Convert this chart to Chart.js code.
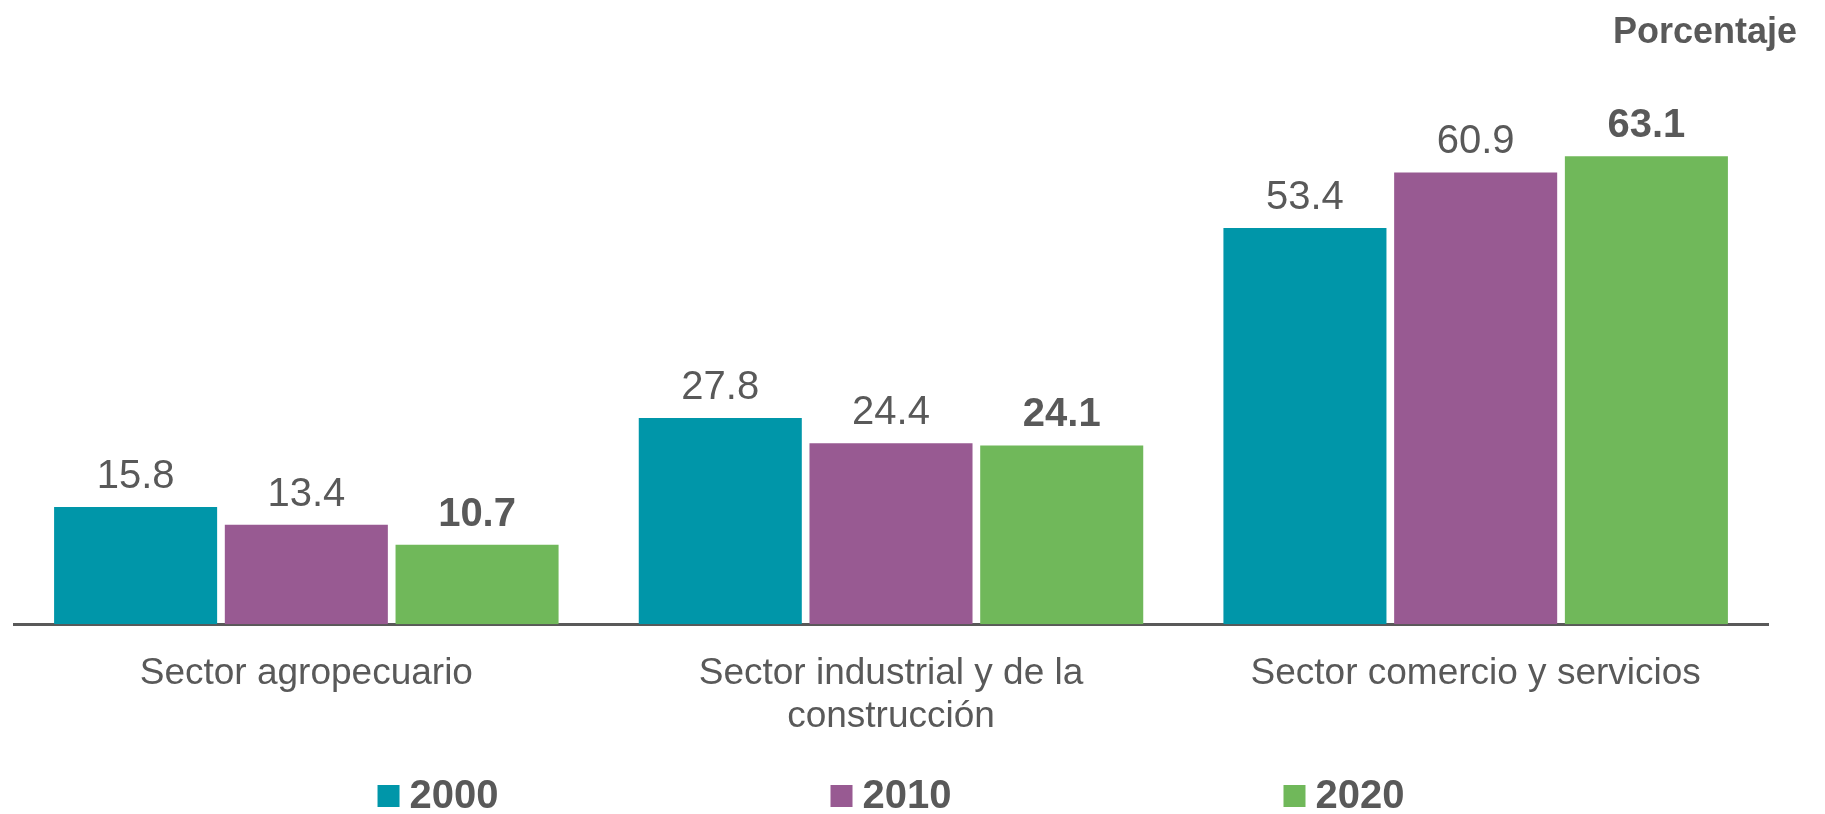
<!DOCTYPE html>
<html lang="es">
<head>
    <meta charset="UTF-8">
    <title>Porcentaje por sector</title>
    <script src="https://cdn.jsdelivr.net/npm/chart.js"></script>
    <style>
        body { margin: 0; background: #ffffff; }
        #wrap { width: 1825px; height: 814px; position: relative; }
    </style>
</head>
<body>
    <div id="wrap">
        <canvas id="sectorChart"></canvas>
    </div>

    <script>
        // categories and values
        const sectors = ['Sector agropecuario', ['Sector industrial y de la', 'construcción'], 'Sector comercio y servicios'];
        const years = ['2000', '2010', '2020'];
        const values2000 = [15.8, 27.8, 53.4];
        const values2010 = [13.4, 24.4, 60.9];
        const values2020 = [10.7, 24.1, 63.1];
        const colors = ['#0096a9', '#985a92', '#70b85a'];

        const FONT = "'Liberation Sans', Arial, sans-serif";
        const GREY = '#595959';

        // value labels above each bar (last year in bold)
        const valueLabels = {
            id: 'valueLabels',
            afterDatasetsDraw(chart) {
                const ctx = chart.ctx;
                ctx.save();
                ctx.fillStyle = GREY;
                ctx.textAlign = 'center';
                ctx.textBaseline = 'alphabetic';
                chart.data.datasets.forEach((ds, i) => {
                    const meta = chart.getDatasetMeta(i);
                    ctx.font = (i === 2 ? 'bold ' : '') + '40px ' + FONT;
                    meta.data.forEach((bar, j) => {
                        ctx.fillText(ds.data[j].toFixed(1), bar.x, bar.y - 19);
                    });
                });
                ctx.restore();
            }
        };

        // unit note top right + legend at the bottom
        const extras = {
            id: 'extras',
            afterDraw(chart) {
                const ctx = chart.ctx;
                const area = chart.chartArea;
                ctx.save();
                ctx.fillStyle = GREY;
                ctx.font = 'bold 36px ' + FONT;
                ctx.textAlign = 'right';
                ctx.textBaseline = 'alphabetic';
                ctx.fillText('Porcentaje', chart.width - 28, 43);

                // legend
                ctx.font = 'bold 40px ' + FONT;
                ctx.textAlign = 'left';
                const box = 22, gapText = 10, gapItem = 332;
                const widths = years.map(y => box + gapText + ctx.measureText(y).width);
                const total = widths.reduce((a, b) => a + b, 0) + gapItem * (years.length - 1);
                let x = (area.left + area.right) / 2 - total / 2;
                const baseY = 808;
                years.forEach((y, i) => {
                    ctx.fillStyle = colors[i];
                    ctx.fillRect(x, baseY - 23, box, box);
                    ctx.fillStyle = GREY;
                    ctx.fillText(y, x + box + gapText, baseY);
                    x += widths[i] + gapItem;
                });
                ctx.restore();
            }
        };

        const ctx = document.getElementById('sectorChart');
        new Chart(ctx, {
            type: 'bar',
            data: {
                labels: sectors,
                datasets: [
                    { label: years[0], data: values2000, backgroundColor: colors[0] },
                    { label: years[1], data: values2010, backgroundColor: colors[1] },
                    { label: years[2], data: values2020, backgroundColor: colors[2] }
                ]
            },
            options: {
                responsive: true,
                maintainAspectRatio: false,
                animation: false,
                categoryPercentage: 0.876,
                barPercentage: 0.955,
                layout: {
                    padding: { top: 105, left: 14, right: 57, bottom: 48 }
                },
                plugins: {
                    legend: { display: false },
                    tooltip: { enabled: false }
                },
                scales: {
                    x: {
                        z: 1,
                        grid: { display: false, drawTicks: false },
                        border: { display: true, color: GREY, width: 3 },
                        ticks: {
                            color: GREY,
                            padding: 28,
                            maxRotation: 0,
                            autoSkip: false,
                            font: { family: FONT, size: 37, lineHeight: 1.16 }
                        }
                    },
                    y: {
                        display: false,
                        min: 0,
                        max: 70
                    }
                }
            },
            plugins: [valueLabels, extras]
        });
    </script>
</body>
</html>
